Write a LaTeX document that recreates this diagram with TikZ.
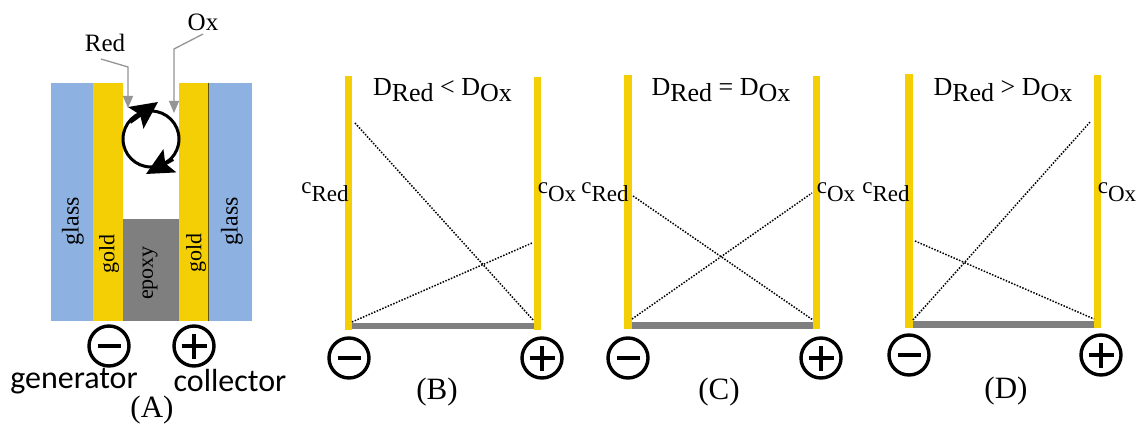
\documentclass[tikz,border=0pt]{standalone}
\usepackage{fontspec}
\setmainfont{Liberation Serif}
\newfontfamily\calib{Carlito}
\usetikzlibrary{arrows.meta}
\definecolor{gld}{HTML}{F5CF05}
\definecolor{gls}{HTML}{8DB1E0}
\definecolor{epx}{HTML}{7F7F7F}
\definecolor{lead}{HTML}{959595}
\tikzset{
 x=1pt,y=-1pt,
 lbl/.style={inner sep=0pt,font=\fontsize{25}{28}\selectfont},
 ttl/.style={inner sep=0pt,font=\fontsize{26}{28}\selectfont},
 clbl/.style={inner sep=0pt,font=\fontsize{23}{26}\selectfont},
 pcap/.style={inner sep=0pt,font=\fontsize{31}{34}\selectfont},
 cal/.style={inner sep=0pt,font=\calib\fontsize{32}{36}\selectfont},
 vert/.style={inner sep=0pt,rotate=90,font=\fontsize{22}{24}\selectfont},
 sgn/.style={circle,draw=black,line width=3.4pt,minimum size=40pt,inner sep=0pt},
 dotl/.style={draw=black,line width=1.5pt,dash pattern=on 1.5pt off 1.5pt},
 leadl/.style={draw=lead,line width=1.3pt,-{Triangle[width=10pt,length=12pt,fill=lead]}},
 cyc/.style={draw=black,line width=4pt,-{Stealth[width=26pt,length=27pt,inset=5pt]}},
 goldbar/.style={fill=gld,draw=none},
}
\newcommand{\minusat}[2]{\node[sgn] (#2) at (#1) {}; \draw[line width=3.8pt,black] ([xshift=-11.5pt]#2.center) -- ([xshift=11.5pt]#2.center);}
\newcommand{\plusat}[2]{\node[sgn] (#2) at (#1) {}; \draw[line width=3.8pt,black] ([xshift=-12.5pt]#2.center) -- ([xshift=12.5pt]#2.center); \draw[line width=3.8pt,black] ([yshift=-12.5pt]#2.center) -- ([yshift=12.5pt]#2.center);}
\newcommand{\lowT}[1]{\raisebox{-6pt}{#1}}
\newcommand{\lowC}[1]{\raisebox{-8pt}{#1}}
\begin{document}
\begin{tikzpicture}
\useasboundingbox (0,0) rectangle (1137,425);
\fill[white] (0,0) rectangle (1137,425);
% panel A
\fill[gls] (51,83) rectangle (93,321);
\fill[gls] (208,83) rectangle (252,321);
\fill[goldbar] (93,83) rectangle (123,321);
\fill[goldbar] (179,83) rectangle (208,321);
\fill[epx] (123,219) rectangle (179,321);
\draw[black!60!gld,line width=.6pt] (208,83) -- (208,321);
\node[vert,font=\fontsize{24}{26}\selectfont] (g1) at (73,221) {glass};
\node[vert,font=\fontsize{24}{26}\selectfont] (g2) at (232,221) {glass};
\node[vert] (au1) at (109,254) {gold};
\node[vert] (au2) at (196,253) {gold};
\node[vert] (ep) at (150,273) {epoxy};
\coordinate (cc) at (151,139);
\draw[black,line width=3pt] (cc) circle (28);
\coordinate (t1a) at (130,122); \coordinate (t1b) at (158,102);
\coordinate (t2a) at (173,159); \coordinate (t2b) at (146,174);
\draw[cyc] (t1a) -- (t1b);
\draw[cyc] (t2a) -- (t2b);
\node[lbl] (red) at (105,43) {Red};
\node[lbl] (ox) at (203,22) {Ox};
\coordinate (r0) at (101,59); \coordinate (r1) at (128,67); \coordinate (r2) at (128,108);
\coordinate (o0) at (203,34); \coordinate (o1) at (174,49); \coordinate (o2) at (174,113);
\draw[leadl] (r0) -- (r1) -- (r2);
\draw[leadl] (o0) -- (o1) -- (o2);
\minusat{109,346}{ma}
\plusat{194,346}{pa}
\node[cal] (gen) at (74,381) {generator};
\node[cal] (col) at (230,381) {collector};
\node[pcap] (A) at (152,410) {(A)};
% panel B
\fill[goldbar] (345,76) rectangle (352,330);
\fill[goldbar] (534,77) rectangle (541,330);
\fill[epx] (352,323) rectangle (534,329);
\coordinate (b1) at (355,123); \coordinate (b2) at (534,321);
\coordinate (b3) at (352,322); \coordinate (b4) at (532,243);
\draw[dotl] (b1) -- (b2);
\draw[dotl] (b3) -- (b4);
\node[ttl] (bt) at (442.5,90) {D\lowT{Red} < D\lowT{Ox}};
\node[clbl] (bc) at (325,192) {c\lowC{Red}};
\node[clbl] (bo) at (557,192) {c\lowC{Ox}};
\minusat{349,358}{mb}
\plusat{542,358}{pb}
\node[pcap] (B) at (437,392) {(B)};
% panel C
\fill[goldbar] (624,75) rectangle (632,329);
\fill[goldbar] (813,76) rectangle (820,329);
\fill[epx] (632,322) rectangle (813,329);
\coordinate (c1) at (633,196); \coordinate (c2) at (813,320);
\coordinate (c3) at (632,319); \coordinate (c4) at (812,193);
\draw[dotl] (c1) -- (c2);
\draw[dotl] (c3) -- (c4);
\node[ttl] (ct) at (721,90) {D\lowT{Red} = D\lowT{Ox}};
\node[clbl] (cc2) at (605,192) {c\lowC{Red}};
\node[clbl] (co) at (836,192) {c\lowC{Ox}};
\minusat{628,358}{mc}
\plusat{821,358}{pc}
\node[pcap] (C) at (719,392) {(C)};
% panel D
\fill[goldbar] (905,74) rectangle (913,328);
\fill[goldbar] (1094,75) rectangle (1101,328);
\fill[epx] (913,321) rectangle (1094,328);
\coordinate (d1) at (915,241); \coordinate (d2) at (1094,319);
\coordinate (d3) at (913,320); \coordinate (d4) at (1091,121);
\draw[dotl] (d1) -- (d2);
\draw[dotl] (d3) -- (d4);
\node[ttl] (dt) at (1003,90) {D\lowT{Red} > D\lowT{Ox}};
\node[clbl] (dc) at (886,192) {c\lowC{Red}};
\node[clbl] (do) at (1117,192) {c\lowC{Ox}};
\minusat{909,355}{md}
\plusat{1101,355}{pd}
\node[pcap] (D) at (1006,391) {(D)};
\end{tikzpicture}
\end{document}
